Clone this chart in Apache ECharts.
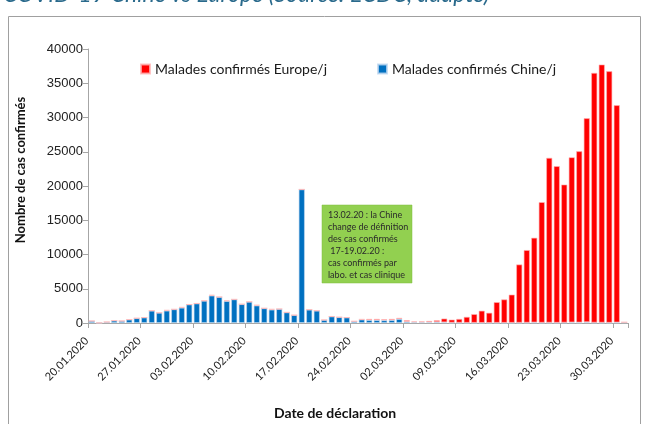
<!DOCTYPE html>
<html>
<head>
<meta charset="utf-8">
<script src="https://cdn.jsdelivr.net/npm/echarts@6/dist/echarts.min.js"></script>
<style>
html,body{margin:0;padding:0;background:#fff;}
#chart{width:645px;height:424px;}
</style>
</head>
<body>
<div id="chart"></div>
<script>
const dates = [
 '20.01.2020','21.01.2020','22.01.2020','23.01.2020','24.01.2020','25.01.2020','26.01.2020',
 '27.01.2020','28.01.2020','29.01.2020','30.01.2020','31.01.2020','01.02.2020','02.02.2020',
 '03.02.2020','04.02.2020','05.02.2020','06.02.2020','07.02.2020','08.02.2020','09.02.2020',
 '10.02.2020','11.02.2020','12.02.2020','13.02.2020','14.02.2020','15.02.2020','16.02.2020',
 '17.02.2020','18.02.2020','19.02.2020','20.02.2020','21.02.2020','22.02.2020','23.02.2020',
 '24.02.2020','25.02.2020','26.02.2020','27.02.2020','28.02.2020','29.02.2020','01.03.2020',
 '02.03.2020','03.03.2020','04.03.2020','05.03.2020','06.03.2020','07.03.2020','08.03.2020',
 '09.03.2020','10.03.2020','11.03.2020','12.03.2020','13.03.2020','14.03.2020','15.03.2020',
 '16.03.2020','17.03.2020','18.03.2020','19.03.2020','20.03.2020','21.03.2020','22.03.2020',
 '23.03.2020','24.03.2020','25.03.2020','26.03.2020','27.03.2020','28.03.2020','29.03.2020',
 '30.03.2020','31.03.2020'
];
const chineDaily = [
 300, 20, 150, 350, 300, 500, 700,
 800, 1800, 1500, 1800, 2000, 2230, 2700,
 2850, 3250, 4000, 3800, 3200, 3450, 2750,
 3100, 2550, 2150, 1950, 2050, 1550, 1150,
 19500, 1950, 1800, 450, 950, 850, 800,
 250, 500, 430, 420, 400, 420, 580,
 200, 130, 120, 120, 140, 100, 50,
 40, 30, 30, 20, 20, 30, 30,
 30, 40, 50, 80, 40, 50, 40,
 60, 90, 70, 120, 60, 50, 40,
 80, 110
];
const europeDaily = [
 0, 0, 0, 0, 0, 0, 0,
 0, 0, 0, 100, 0, 100, 0,
 0, 0, 100, 0, 100, 0, 0,
 0, 100, 0, 100, 0, 0, 0,
 0, 0, 0, 0, 0, 0, 0,
 0, 50, 170, 180, 150, 180, 170,
 200, 120, 130, 180, 260, 550, 450,
 560, 870, 1270, 1780, 1480, 3020, 3420,
 4120, 8510, 10600, 12370, 17610, 24070, 22860,
 20160, 24110, 25010, 29780, 36460, 37690, 36720,
 31720, 0
];
const yTicks = { min: 0, max: 40000, interval: 5000 };
const seriesNames = ['Malades confirmés Europe/j', 'Malades confirmés Chine/j'];
const noteLines = [
 '13.02.20 : la Chine',
 'change de définition',
 'des cas confirmés',
 ' 17-19.02.20 :',
 'cas confirmés par',
 'labo. et cas clinique'
];

const chart = echarts.init(document.getElementById('chart'), null, {renderer: 'canvas'});
const axisGrey = '#a6a6a6';
chart.setOption({
  animation: false,
  backgroundColor: '#ffffff',
  grid: { left: 88, right: 17, top: 49, bottom: 101, containLabel: false },
  legend: [
    { data: [seriesNames[0]], left: 135, top: 57, itemWidth: 9, itemHeight: 9, icon: 'rect', itemGap: 6,
      textStyle: { fontFamily: 'Lato', fontSize: 14, color: '#1a1a1a' } },
    { data: [seriesNames[1]], left: 372, top: 57, itemWidth: 9, itemHeight: 9, icon: 'rect', itemGap: 6,
      textStyle: { fontFamily: 'Lato', fontSize: 14, color: '#1a1a1a' } }
  ],
  xAxis: {
    type: 'category',
    data: dates,
    boundaryGap: true,
    axisLine: { lineStyle: { color: axisGrey, width: 1 } },
    axisTick: { show: true, interval: 6, length: 5, lineStyle: { color: axisGrey } },
    axisLabel: { interval: 6, rotate: 45, fontFamily: 'Lato', fontSize: 11, color: '#222',
      margin: 11, padding: [0, 7, 0, 0] },
    splitLine: { show: false }
  },
  yAxis: {
    type: 'value',
    min: yTicks.min, max: yTicks.max, interval: yTicks.interval,
    axisLine: { show: true, lineStyle: { color: axisGrey, width: 1 } },
    axisTick: { show: true, length: 5, lineStyle: { color: axisGrey } },
    axisLabel: { fontFamily: 'Liberation Sans', fontSize: 13, color: '#222', margin: 5,
      formatter: function (v) { return String(v); } },
    splitLine: { show: false }
  },
  series: [
    { name: seriesNames[1], type: 'bar', stack: 'total', data: chineDaily,
      barCategoryGap: '18%',
      itemStyle: { color: '#0070C0', borderColor: 'rgba(190,215,240,0.8)', borderWidth: 0.8 } },
    { name: seriesNames[0], type: 'bar', stack: 'total', data: europeDaily,
      barCategoryGap: '18%',
      itemStyle: { color: '#FF0000', borderColor: 'rgba(255,180,180,0.8)', borderWidth: 0.8 } }
  ],
  graphic: [
    { type: 'rect', left: 6, top: 14, z: 0, silent: true,
      shape: { width: 632, height: 420 },
      style: { fill: 'none', stroke: '#a0a0a0', lineWidth: 1 } },
    { type: 'text', x: 3, y: -17, z: 10, silent: true,
      style: { text: 'COVID-19 Chine vs Europe (Source: ECDC, adapté)', fill: '#2a6a8c',
        font: 'italic 23px Lato' } },
    { type: 'text', z: 10, silent: true, rotation: Math.PI / 2, x: 21, y: 170,
      style: { text: 'Nombre de cas confirmés', fill: '#111', font: 'bold 13px Lato',
        align: 'center', verticalAlign: 'middle' } },
    { type: 'text', z: 10, silent: true, x: 335, y: 413,
      style: { text: 'Date de déclaration', fill: '#111', font: 'bold 14px Lato',
        align: 'center', verticalAlign: 'middle' } },
    { type: 'group', x: 322, y: 205, z: 20, silent: true,
      children: [
        { type: 'rect', shape: { x: 0, y: 0, width: 90, height: 78 },
          style: { fill: '#92D050', stroke: '#7fbf3f', lineWidth: 0.5 } },
        { type: 'text', x: 6, y: 4,
          style: { text: noteLines.join('\n'), fill: '#2b2b2b', font: '9px Lato', lineHeight: 12 } }
      ] }
  ]
});
</script>
</body>
</html>
